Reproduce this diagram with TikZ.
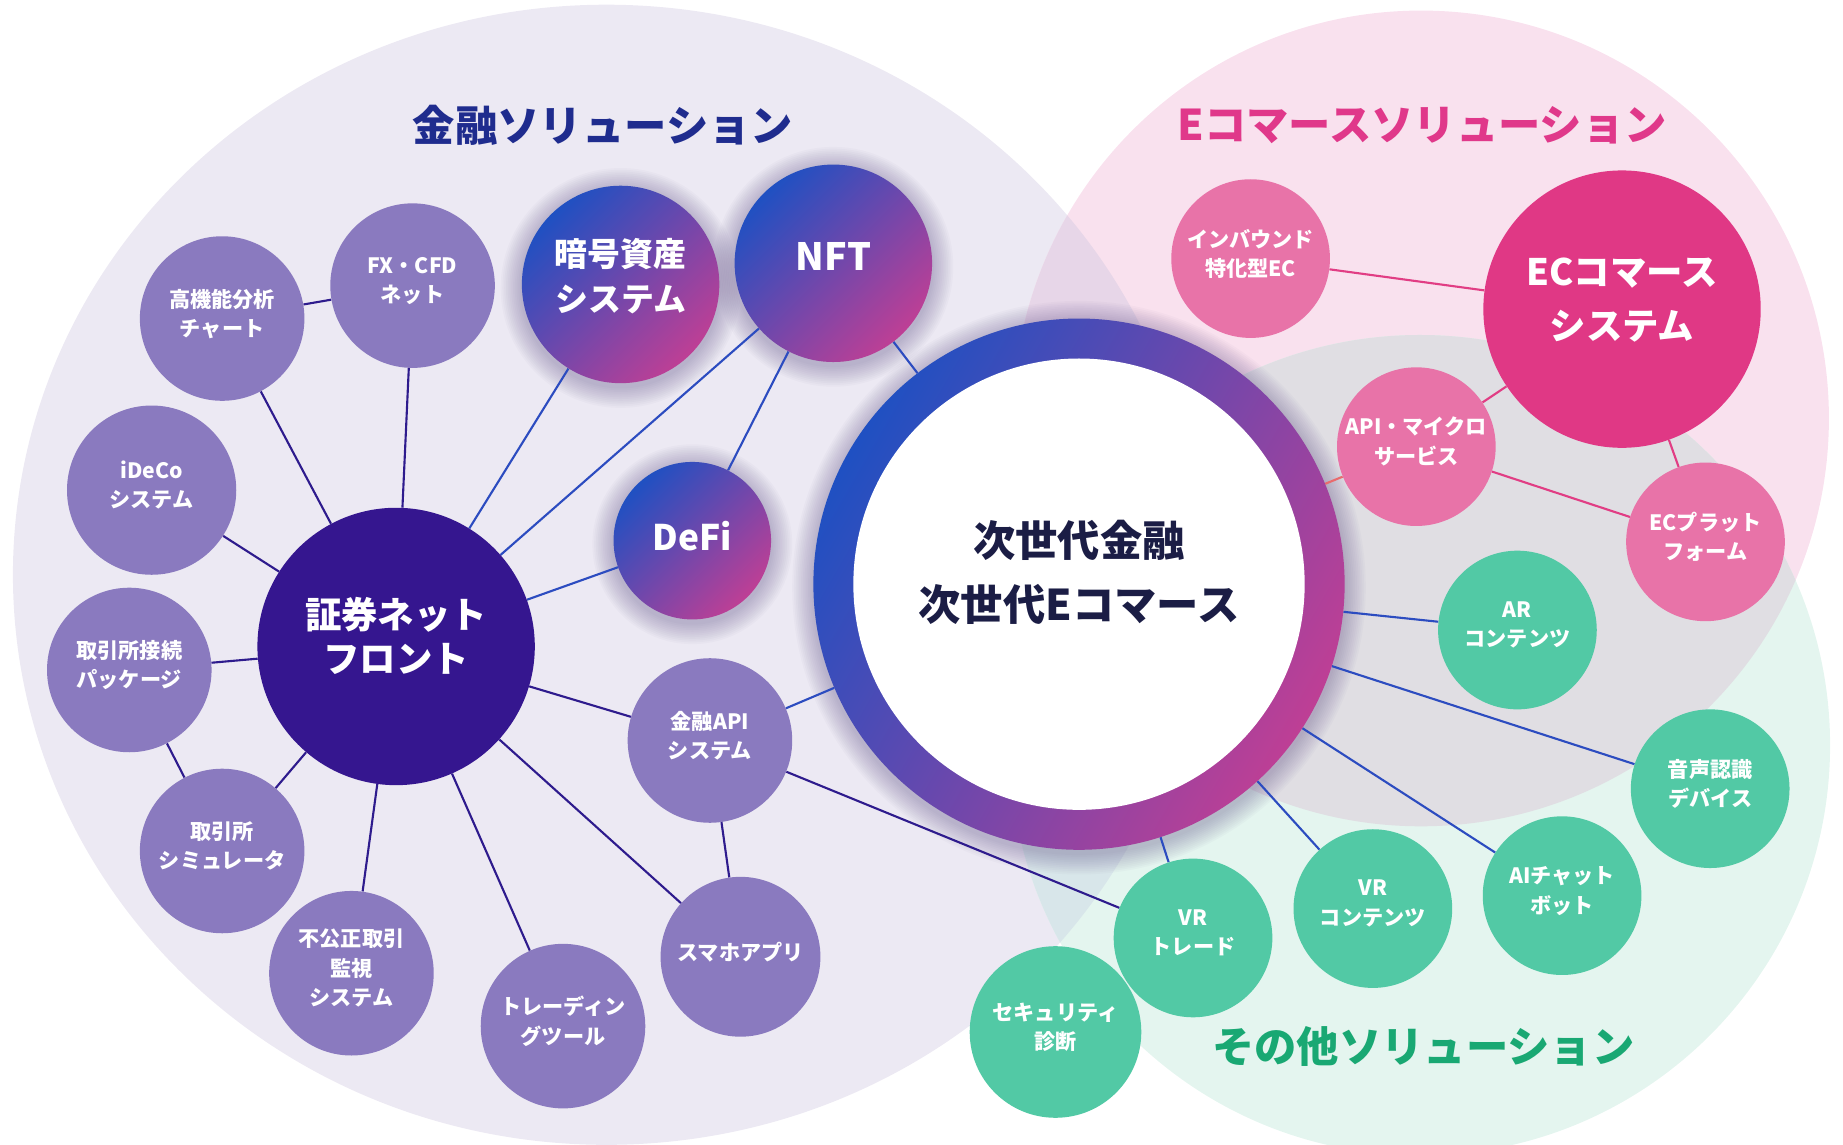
\documentclass[tikz,border=0pt]{standalone}
\usepackage{fontspec}
\setmainfont{Noto Sans CJK JP}
\usepackage{tikz}

\pgfdeclarelayer{bgl}
\pgfdeclarelayer{shl}
\pgfdeclarelayer{lnl}
\pgfsetlayers{bgl,shl,lnl,main}

\definecolor{lavbg}{HTML}{ECE9F3}
\definecolor{pinkbg}{HTML}{F9E1EE}
\definecolor{greenbg}{HTML}{E4F5EF}
\definecolor{lavpink}{HTML}{E7D6E8}
\definecolor{lavgreen}{HTML}{D8E6EA}
\definecolor{pinkgreen}{HTML}{E0DEE3}
\definecolor{deepviolet}{HTML}{35168F}
\definecolor{softviolet}{HTML}{8A7ABF}
\definecolor{gradblue}{HTML}{1F50C2}
\definecolor{gradmag}{HTML}{BE3F95}
\definecolor{ecpink}{HTML}{E03885}
\definecolor{softpink}{HTML}{E873A8}
\definecolor{mint}{HTML}{52C9A5}
\definecolor{lineviolet}{HTML}{2E1B8D}
\definecolor{lineblue}{HTML}{2C4CC0}
\definecolor{linepink}{HTML}{E13D84}
\definecolor{linesalmon}{HTML}{E96B6E}
\definecolor{titlenavy}{HTML}{1F2C8E}
\definecolor{titlepink}{HTML}{E0388A}
\definecolor{titlegreen}{HTML}{19A873}
\definecolor{hubink}{HTML}{1B1D45}
\definecolor{haze}{HTML}{5B4A85}

\begin{document}
\begin{tikzpicture}[x=1pt,y=-1pt]
\tikzset{
  lift/.style={text depth=#1},
  bubble/.style={circle,inner sep=0pt,align=center,text=white,lift=10pt,font=\bfseries\fontsize{18}{25}\selectfont},
  finbubble/.style={bubble,fill=softviolet,minimum size=140pt},
  gradbubble/.style={bubble,minimum size=168pt,left color=gradblue,right color=gradmag,shading angle=45,lift=16pt,font=\bfseries\fontsize{28}{38}\selectfont},
  ecbubble/.style={bubble,fill=softpink,minimum size=135pt},
  otherbubble/.style={bubble,fill=mint,minimum size=135pt},
  bigbubble/.style={bubble,minimum size=236pt,lift=20pt,font=\bfseries\fontsize{31}{37}\selectfont},
  hubring/.style={circle,inner sep=0pt,minimum size=452pt,left color=gradblue,right color=gradmag,shading angle=60},
  hubtext/.style={align=center,text=hubink,font=\bfseries\fontsize{36}{55}\selectfont},
  title/.style={font=\bfseries\fontsize{36}{40}\selectfont},
  vline/.style={lineviolet,line width=1.8pt},
  bline/.style={lineblue,line width=1.8pt},
  pline/.style={linepink,line width=1.8pt},
}
\useasboundingbox (0,0) rectangle (1568,974);
\coordinate (finc) at (516,489);
\coordinate (ecc) at (1209,356);
\coordinate (othc) at (1208,634);

\begin{pgfonlayer}{bgl}
\fill[lavbg] (finc) ellipse[x radius=505,y radius=485];
\fill[pinkbg] (ecc) circle[radius=347];
\fill[greenbg] (othc) circle[radius=349];
\begin{scope}
\clip (finc) ellipse[x radius=505,y radius=485];
\fill[lavpink] (ecc) circle[radius=347];
\fill[lavgreen] (othc) circle[radius=349];
\end{scope}
\begin{scope}
\clip (ecc) circle[radius=347];
\fill[pinkgreen] (othc) circle[radius=349];
\end{scope}
\end{pgfonlayer}

\node[title,text=titlenavy] (fintitle) at (513,107) {金融ソリューション};
\node[title,text=titlepink] (ectitle) at (1210,107) {Eコマースソリューション};
\node[title,text=titlegreen] (othtitle) at (1211,890) {その他ソリューション};

\node[hubring] (hub) at (918,497) {};
\fill[white] (hub.center) circle[radius=192];
\node[hubtext] (hubtxt) at ([yshift=10pt]hub.center) {次世代金融\\次世代Eコマース};

\node[bigbubble,fill=deepviolet] (sn) at (337,550) {証券ネット\\フロント};
\node[finbubble] (chart) at (189,271) {高機能分析\\チャート};
\node[finbubble] (fx) at (351,243) {FX・CFD\\ネット};
\node[finbubble,minimum size=144pt] (ideco) at (129,417) {iDeCo\\システム};
\node[finbubble] (conn) at (110,570) {取引所接続\\パッケージ};
\node[finbubble] (sim) at (189,724) {取引所\\シミュレータ};
\node[finbubble] (fraud) at (299,828) {不公正取引\\監視\\システム};
\node[finbubble] (tool) at (479,873) {トレーディン\\グツール};
\node[finbubble,minimum size=136pt] (app) at (630,814) {スマホアプリ};
\node[finbubble] (fapi) at (604,630) {金融API\\システム};
\node[gradbubble] (crypto) at (528,242) {暗号資産\\システム};
\node[gradbubble,lift=12pt,font=\bfseries\fontsize{32}{36}\selectfont] (nft) at (709,224) {NFT};
\node[gradbubble,minimum size=134pt,lift=8pt,font=\bfseries\fontsize{30}{36}\selectfont] (defi) at (589,460) {DeFi};

\node[bigbubble,fill=ecpink,lift=18pt,font=\bfseries\fontsize{31}{46}\selectfont] (ecsys) at (1380,263) {ECコマース\\システム};
\node[ecbubble] (inb) at (1064,220) {インバウンド\\特化型EC};
\node[ecbubble] (micro) at (1205,380) {API・マイクロ\\サービス};
\node[ecbubble] (ecpf) at (1451,461) {ECプラット\\フォーム};

\node[otherbubble] (ar) at (1291,536) {AR\\コンテンツ};
\node[otherbubble] (voice) at (1455,671) {音声認識\\デバイス};
\node[otherbubble] (aichat) at (1329,762) {AIチャット\\ボット};
\node[otherbubble] (vrc) at (1168,773) {VR\\コンテンツ};
\node[otherbubble,minimum size=146pt] (sec) at (898,878) {セキュリティ\\診断};
\node[otherbubble] (vrt) at (1015,798) {VR\\トレード};

\begin{pgfonlayer}{shl}
\foreach \n/\rad in {crypto/84,nft/84,defi/67,hub/226}
  \foreach \k in {1,...,12}
    \fill[haze,opacity=0.03] ([yshift=-3pt]\n.center) circle[radius={\rad+\k*1.5}];
\end{pgfonlayer}

\begin{pgfonlayer}{lnl}
\foreach \a/\b in {sn/chart,sn/fx,sn/ideco,sn/conn,sn/sim,sn/fraud,sn/tool,sn/app,sn/fapi,chart/fx,conn/sim,fapi/app,fapi/vrt}
  \draw[vline] (\a) -- (\b);
\foreach \a/\b in {sn/crypto,sn/nft,sn/defi,nft/defi,nft/hub,fapi/hub,hub/ar,hub/voice,hub/aichat,hub/vrc,hub/vrt}
  \draw[bline] (\a) -- (\b);
\foreach \a/\b in {inb/ecsys,ecsys/micro,ecsys/ecpf,micro/ecpf}
  \draw[pline] (\a) -- (\b);
\draw[linesalmon,line width=1.8pt] (hub) -- (micro);
\end{pgfonlayer}
\end{tikzpicture}
\end{document}
